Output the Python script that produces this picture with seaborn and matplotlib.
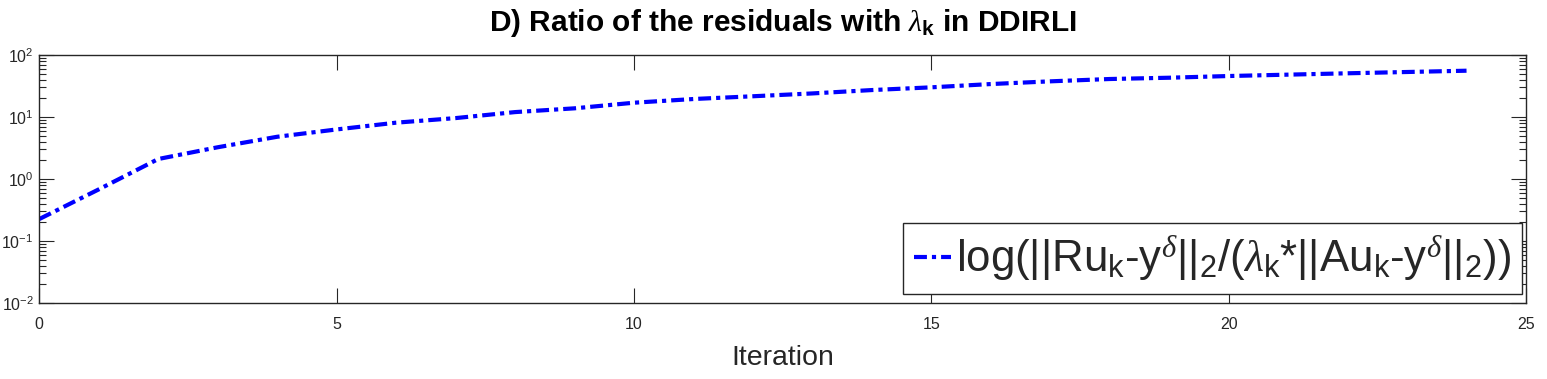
import numpy as np
import pandas as pd
import matplotlib
matplotlib.use("Agg")
import matplotlib.pyplot as plt
import seaborn as sns
from matplotlib.ticker import LogLocator, FixedLocator, NullFormatter

# data
iteration = [0, 1, 2, 3, 4, 5, 6, 7, 8, 9, 10, 11, 12, 13, 14, 15, 16, 17, 18, 19, 20, 21, 22, 23, 24]
ratio = [0.226, 0.68, 2.1, 3.25, 4.8, 6.3, 8.1, 9.6, 12.0, 13.8, 17.0, 19.5, 21.6, 24.0, 27.2,
         30.1, 34.0, 37.6, 41.0, 43.0, 45.8, 48.2, 50.7, 53.2, 55.8]
x_ticks = [0, 5, 10, 15, 20, 25]
title_text = r'D) Ratio of the residuals with $\mathit{\lambda}_{\mathbf{k}}$ in DDIRLI'
legend_label = (r'log(||Ru$_{\mathrm{k}}$-y$^{\mathit{\delta}}$||$_{\mathrm{2}}$/'
                r'($\mathit{\lambda}_{\mathrm{k}}$*||Au$_{\mathrm{k}}$-y$^{\mathit{\delta}}$||$_{\mathrm{2}}$))')
x_label = 'Iteration'

sns.set_theme(style="white")
plt.rcParams['font.family'] = ['Liberation Sans', 'DejaVu Sans']
plt.rcParams['mathtext.fontset'] = 'custom'
plt.rcParams['mathtext.rm'] = 'Liberation Sans'
plt.rcParams['mathtext.it'] = 'Liberation Serif:italic'
plt.rcParams['mathtext.bf'] = 'Liberation Sans:bold'
plt.rcParams['axes.unicode_minus'] = False

df = pd.DataFrame({'Iteration': iteration, 'ratio': ratio})

fig = plt.figure(figsize=(15.47, 3.79), dpi=100)
ax = fig.add_axes([39.3 / 1547, 1 - 303 / 379, (1526 - 39.3) / 1547, (303 - 55) / 379])

sns.lineplot(data=df, x='Iteration', y='ratio', ax=ax, color='#0000ff', lw=3,
             label=legend_label)
ax.lines[0].set_linestyle((0, (3.1, 1.2, 1.0, 1.2)))

ax.set_yscale('log')
ax.set_ylim(1e-2, 1e2)
ax.set_xlim(0, 25)
ax.xaxis.set_major_locator(FixedLocator(x_ticks))
ax.yaxis.set_major_locator(LogLocator(base=10, numticks=10))
ax.yaxis.set_minor_locator(LogLocator(base=10, subs=np.arange(2, 10), numticks=20))
ax.yaxis.set_minor_formatter(NullFormatter())

for s in ax.spines.values():
    s.set_color('#262626')
    s.set_linewidth(1.0)
ax.tick_params(axis='both', which='major', direction='in', length=11, width=0.8,
               color='#262626', labelcolor='#262626', labelsize=11.5,
               top=True, right=True, bottom=True, left=True)
ax.tick_params(axis='y', which='minor', direction='in', length=5, width=0.8,
               color='#262626', left=True, right=True)
ax.tick_params(axis='x', which='major', pad=10)
ax.tick_params(axis='y', which='major', pad=4)

ax.set_xlabel(x_label, fontsize=20.5, color='#262626', labelpad=9.5)
ax.set_ylabel('')
ax.set_title(title_text, fontsize=21.5, fontweight='bold', color='black', pad=17)

leg = ax.legend(loc='lower right', bbox_to_anchor=(0.9973, 0.036), fontsize=31.5,
                frameon=True, fancybox=False, edgecolor='#262626', framealpha=1,
                borderpad=0.25, handlelength=0.85, handletextpad=0.12, borderaxespad=0)
leg.get_frame().set_linewidth(1.0)

fig.savefig('out.png', dpi=100)
